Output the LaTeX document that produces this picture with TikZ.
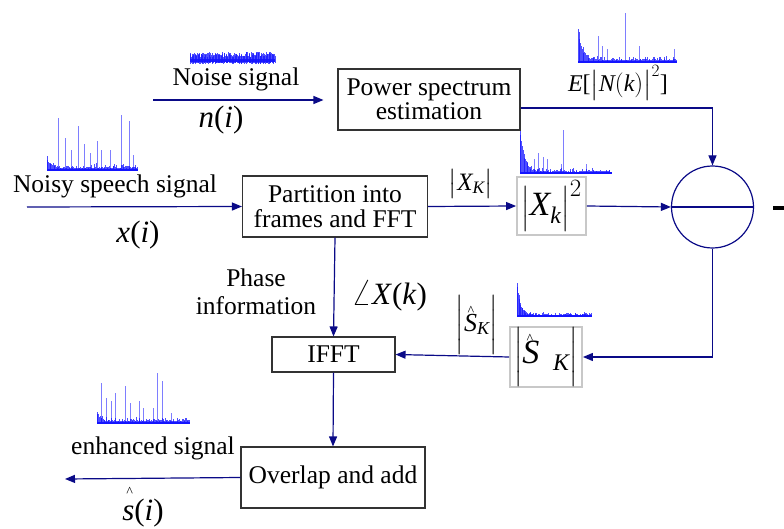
\documentclass[tikz,border=0pt]{standalone}
\usepackage{amsmath}
\usepackage{graphicx}
\usepackage[no-math]{fontspec}
\setmainfont{Liberation Serif}
\usetikzlibrary{arrows.meta,calc}
\definecolor{navy}{RGB}{10,10,135}
\definecolor{boxgray}{RGB}{200,200,200}
\definecolor{specblue}{RGB}{20,20,255}
\newcommand\fs[1]{\fontsize{#1}{#1}\selectfont}
\newcommand\hatover[2]{\raisebox{#2}[0pt][0pt]{\makebox[0pt][l]{\hspace{0.12em}\fs{14}\^{}}}#1}
\newcommand\drawspec[7]{%
  \pgfmathsetseed{#5}%
  \foreach \k in {0,...,119}{%
    \pgfmathsetmacro\xx{#1+#3*\k/120}%
    \pgfmathsetmacro\hh{min(1,0.03+0.09*rnd*rnd + #6*exp(-\k/5))*#4}%
    \draw[specline] (\xx,#2) -- ++(0,-\hh);
  }%
  \foreach \p/\q in {#7}{\draw[specline,opacity=0.55] ({#1+#3*\p},#2) -- ++(0,{-#4*\q});}%
  \draw[specline,line width=1.2pt,opacity=1] (#1,#2) -- ++(#3,0);
}
\tikzset{
  specline/.style={specblue,line width=0.6pt,opacity=0.75},
  blk/.style={draw=black!80,line width=1.1pt,fill=white,align=center,inner sep=0pt,font=\fs{25.5}},
  gbox/.style={draw=boxgray,line width=1.8pt,fill=white,inner sep=0pt},
  arr/.style={navy,line width=1.2pt,-{Triangle[length=10pt,width=8pt]}},
  ln/.style={navy,line width=1.2pt},
  lbl/.style={inner sep=0pt,font=\fs{25.5}},
  mlbl/.style={inner sep=0pt,font=\fs{31}}
}
\begin{document}
\begin{tikzpicture}[x=1pt,y=-1pt]
\useasboundingbox (0,0) rectangle (784,529);
% spectra
\drawspec{47}{170}{91}{58}{11}{0.15}{0.12/0.9,0.2/0.55,0.27/0.35,0.34/0.75,0.41/0.45,0.48/0.3,0.55/0.5,0.6/0.35,0.7/0.35,0.82/0.95,0.9/0.85,0.95/0.25}
\drawspec{578}{62}{99}{52}{12}{0.6}{0.2/0.5,0.25/0.3,0.3/0.25,0.48/0.95,0.62/0.3,0.97/0.25}
\drawspec{520}{173}{92}{45}{13}{1.0}{0.15/0.3,0.2/0.45,0.25/0.35,0.3/0.3,0.45/0.2,0.47/0.95,0.72/0.2}
\drawspec{517}{316}{75}{33}{14}{1.0}{}
\drawspec{97}{423}{93}{50}{15}{0.15}{0.05/0.8,0.1/0.5,0.15/0.45,0.2/0.6,0.3/0.75,0.36/0.4,0.45/0.45,0.5/0.3,0.6/0.3,0.65/1.0,0.7/0.85,0.8/0.2}
% noise signal (time domain)
\pgfmathsetseed{21}
\foreach \k in {0,...,140}{%
  \pgfmathsetmacro\xx{190+85*\k/140}%
  \pgfmathsetmacro\aa{3+5*rnd}%
  \pgfmathsetmacro\bb{2+2*rnd}%
  \draw[specline] (\xx,{60-\aa}) -- (\xx,{60+\bb});
}
\draw[specline,line width=3pt,opacity=0.9] (190,61) -- (275,61);
% blocks
\node[blk,minimum width=182pt,minimum height=61pt] (pse) at (429,99.5) {Power spectrum\\[-1pt]estimation};
\node[blk,minimum width=185pt,minimum height=61pt] (part) at (335,206.5) {Partition into\\[-1pt]frames and FFT};
\node[gbox,minimum width=69pt,minimum height=58pt] (xk2) at (551.5,206) {\fs{34}$\Bigl|\textit{X}_{\textit{k}}\Bigr|^{2}$};
\node[draw=navy,line width=1.2pt,circle,minimum size=82pt,inner sep=0pt] (circ) at (712.5,207) {};
\node[gbox,minimum width=72pt,minimum height=60pt] (shb) at (546,357) {\fs{34}$\biggl|\textit{\hatover{S}{20pt}}\;\;_{\textit{K}}\biggr|$};
\node[blk,minimum width=123pt,minimum height=35pt] (ifft) at (333.5,354.5) {IFFT};
\node[blk,minimum width=184pt,minimum height=61pt] (ola) at (333,477.5) {Overlap and add};
% coordinates of free ends
\coordinate (nin) at (153,100);
\coordinate (xin) at (27,207);
\coordinate (sout) at (65,479);
% connectors
\draw[arr,shorten >=14pt] (nin) -- (nin -| pse.west);
\draw[ln] ([yshift=-8.5pt]pse.east) -| (circ.north);
\draw[arr] ([yshift=-8.5pt]pse.east -| circ.north) -- (circ.north);
\draw[arr] (xin) -- (part.west);
\draw[arr] (part.east) -- (xk2.west);
\draw[arr] (xk2.east) -- (circ.west);
\draw[ln] (circ.west) -- (circ.east);
\draw[arr] (circ.south) |- (shb.east);
\draw[arr] (shb.west) -- (ifft.east);
\draw[arr] (part.south) -- (ifft.north);
\draw[arr] (ifft.south) -- (ola.north);
\draw[arr] (ola.west) -- (sout);
\draw[black,line width=4pt] (773,208) -- (784,208);
% labels
\node[lbl] (ltn) at (236,79) {Noise signal};
\node[mlbl] (lni) at (221,120) {\textit{n}(\textit{i})};
\node[lbl] (ltx) at (115,186) {Noisy speech signal};
\node[mlbl] (lxi) at (138,235) {\textit{x}(\textit{i})};
\node[lbl,font=\fs{24}] (len) at (618,83) {\textit{E}[$\bigl|\textit{N}(\textit{k})\bigr|^{2}$]};
\node[lbl,font=\fs{25}] (lxk) at (471,184) {$\bigl|\textit{X}_{\textit{K}}\bigr|$};
\node[lbl,align=center] (lph) at (256,292) {Phase\\[3pt]information};
\node[mlbl] (lang) at (389,296) {\scalebox{1.3}{$\angle$}\textit{X}(\textit{k})};
\node[lbl,font=\fs{26}] (lsk) at (477,325) {$\biggl|\textit{\hatover{S}{16pt}}_{\textit{K}}\biggr|$};
\node[lbl] (lenh) at (153,448) {enhanced signal};
\node[mlbl] (lsi) at (143,513) {\textit{\hatover{s}{24pt}}(\textit{i})};
\end{tikzpicture}
\end{document}
